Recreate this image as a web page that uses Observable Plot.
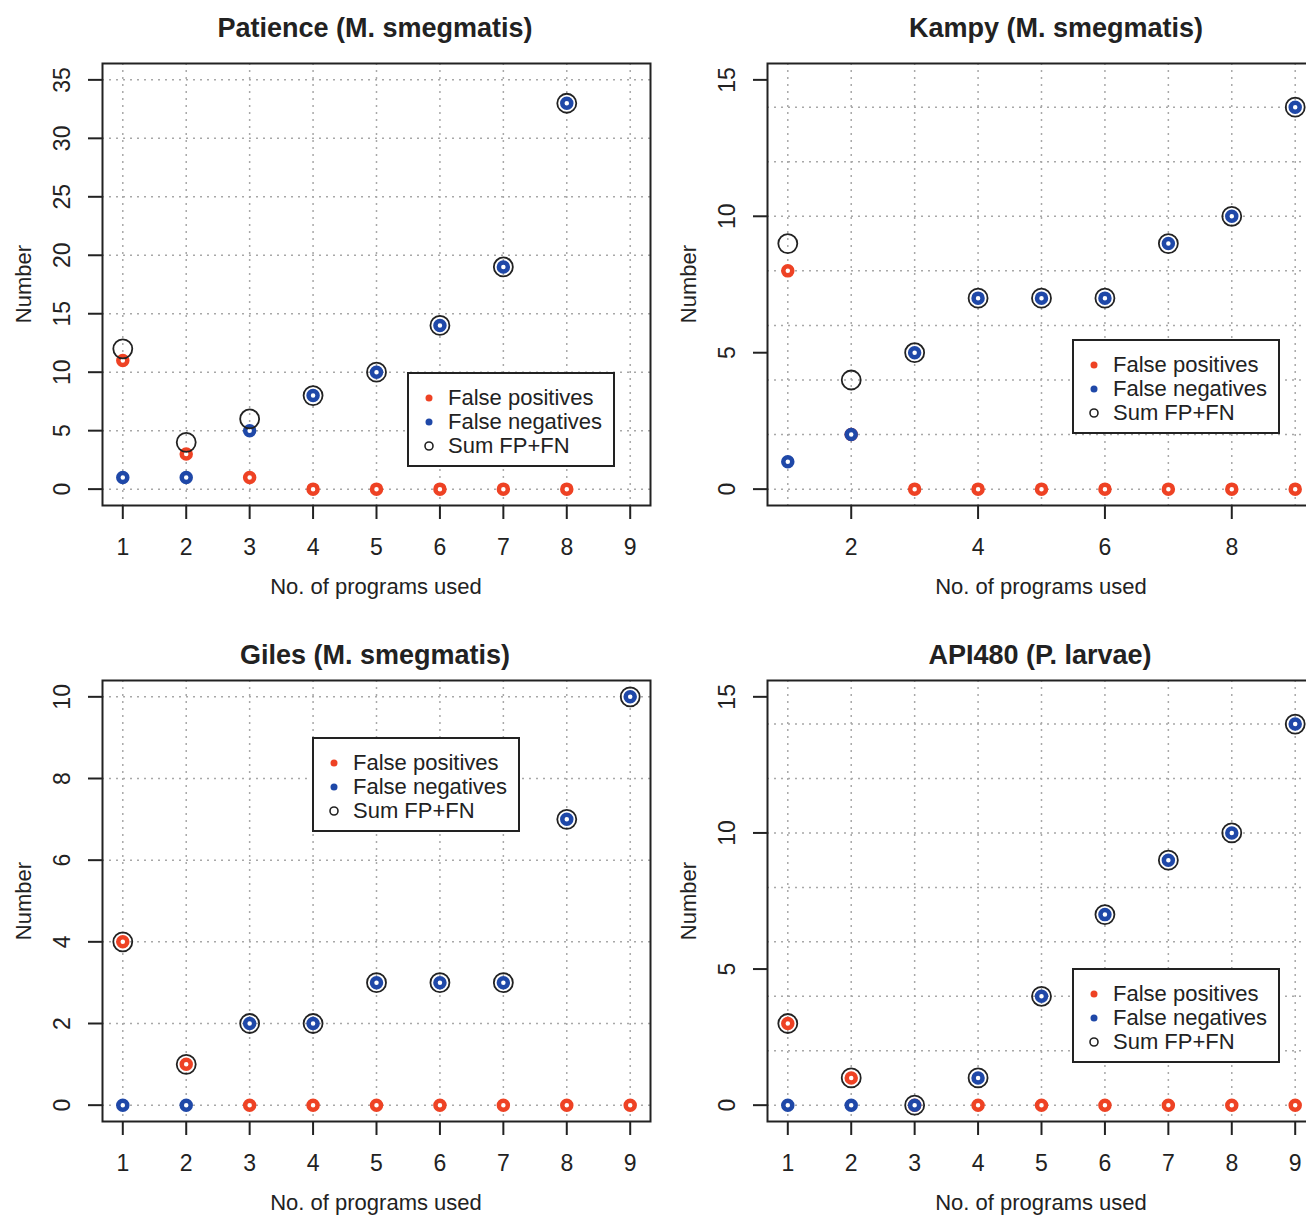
<!DOCTYPE html>
<html><head><meta charset="utf-8">
<script src="https://cdn.jsdelivr.net/npm/d3@7"></script>
<script src="https://cdn.jsdelivr.net/npm/@observablehq/plot@0.6"></script>
<style>
html,body{margin:0;padding:0;background:#fff;}
#wrap{position:relative;width:1306px;height:1218px;overflow:hidden;font-family:"Liberation Sans",Arial,sans-serif;color:#222;}
.panel{position:absolute;}
.panel svg{max-width:none !important;}
.title{position:absolute;font-weight:bold;font-size:27px;white-space:nowrap;transform:translate(-50%,-50%);}
.xlab{position:absolute;font-size:22px;white-space:nowrap;transform:translate(-50%,-50%);}
.ylab{position:absolute;font-size:22px;white-space:nowrap;transform:translate(-50%,-50%) rotate(-90deg);}
.legend{position:absolute;border:2px solid #222;background:#fff;box-sizing:border-box;width:208px;height:95px;}
.lrow{position:absolute;left:0;height:24px;line-height:24px;font-size:22px;white-space:nowrap;}
.lrow .txt{position:absolute;left:39px;top:0;}
.lrow svg{position:absolute;left:12px;top:4px;}
</style>
</head><body>
<div id="wrap"></div>
<script>
// ---- data ----
const programs = [1, 2, 3, 4, 5, 6, 7, 8, 9];
const titles = ["Patience (M. smegmatis)", "Kampy (M. smegmatis)", "Giles (M. smegmatis)", "API480 (P. larvae)"];
const seriesNames = ["False positives", "False negatives", "Sum FP+FN"];
const xLabel = "No. of programs used";
const yLabel = "Number";

const patienceFP  = [11, 3, 1, 0, 0, 0, 0, 0];
const patienceFN  = [1, 1, 5, 8, 10, 14, 19, 33];
const patienceSum = [12, 4, 6, 8, 10, 14, 19, 33];

const kampyFP  = [8, 2, 0, 0, 0, 0, 0, 0, 0];
const kampyFN  = [1, 2, 5, 7, 7, 7, 9, 10, 14];
const kampySum = [9, 4, 5, 7, 7, 7, 9, 10, 14];

const gilesFP  = [4, 1, 0, 0, 0, 0, 0, 0, 0];
const gilesFN  = [0, 0, 2, 2, 3, 3, 3, 7, 10];
const gilesSum = [4, 1, 2, 2, 3, 3, 3, 7, 10];

const apiFP  = [3, 1, 0, 0, 0, 0, 0, 0, 0];
const apiFN  = [0, 0, 0, 1, 4, 7, 9, 10, 14];
const apiSum = [3, 1, 0, 1, 4, 7, 9, 10, 14];

const xTicksAll  = [1, 2, 3, 4, 5, 6, 7, 8, 9];
const xTicksEven = [2, 4, 6, 8];
const patienceYTicks = [0, 5, 10, 15, 20, 25, 30, 35];
const patienceYGrid  = [0, 5, 10, 15, 20, 25, 30, 35];
const kampyYTicks = [0, 5, 10, 15];
const kampyYGrid  = [0, 2, 4, 6, 8, 10, 12, 14];
const gilesYTicks = [0, 2, 4, 6, 8, 10];
const gilesYGrid  = [0, 2, 4, 6, 8, 10];
const apiYTicks = [0, 5, 10, 15];
const apiYGrid  = [0, 2, 4, 6, 8, 10, 12, 14];
const yLimits = [35, 15, 10, 15];

// ---- styling ----
const RED = "#ee4224", BLUE = "#1f48a8", DARK = "#222";

const panels = [
  {fp: patienceFP, fn: patienceFN, sum: patienceSum, yTicks: patienceYTicks, yGrid: patienceYGrid, xTicks: xTicksAll,
   left: 0, top: 0, w: 653, h: 609, ml: 102, mr: 3, mt: 63, mb: 104, tx: 375, ty: 28, leg: [407, 372]},
  {fp: kampyFP, fn: kampyFN, sum: kampySum, yTicks: kampyYTicks, yGrid: kampyYGrid, xTicks: xTicksEven,
   left: 653, top: 0, w: 665, h: 609, ml: 114, mr: 3, mt: 63, mb: 104, tx: 1056, ty: 28, leg: [1072, 339]},
  {fp: gilesFP, fn: gilesFN, sum: gilesSum, yTicks: gilesYTicks, yGrid: gilesYGrid, xTicks: xTicksAll,
   left: 0, top: 609, w: 653, h: 609, ml: 102, mr: 3, mt: 71, mb: 97, tx: 375, ty: 655, leg: [312, 737]},
  {fp: apiFP, fn: apiFN, sum: apiSum, yTicks: apiYTicks, yGrid: apiYGrid, xTicks: xTicksAll,
   left: 653, top: 609, w: 665, h: 609, ml: 114, mr: 3, mt: 71, mb: 97, tx: 1040, ty: 655, leg: [1072, 968]}
];

const wrap = document.getElementById("wrap");
const gridStyle = {stroke: "#a8a8a8", strokeOpacity: 1, strokeWidth: 1.5, strokeDasharray: "2,5"};

panels.forEach((p, i) => {
  const rows = (arr) => arr.map((v, k) => ({x: programs[k], v}));
  const yMax = yLimits[i];
  const chart = Plot.plot({
    width: p.w, height: p.h,
    marginLeft: p.ml, marginRight: p.mr, marginTop: p.mt, marginBottom: p.mb,
    style: {fontFamily: "Liberation Sans, Arial, sans-serif", fontSize: "23px", color: DARK, background: "transparent", maxWidth: "none"},
    x: {domain: [1 - 0.32, 9 + 0.32]},
    y: {domain: [-0.04 * yMax, 1.04 * yMax]},
    marks: [
      Plot.gridX(programs, gridStyle),
      Plot.gridY(p.yGrid, gridStyle),
      Plot.axisX(p.xTicks, {tickSize: 14, tickPadding: 19, strokeWidth: 2, stroke: DARK, fontSize: 23, label: null}),
      Plot.axisY(p.yTicks, {tickSize: 14, tickPadding: 19, tickRotate: -90, strokeWidth: 2, stroke: DARK, fontSize: 23, label: null}),
      Plot.frame({stroke: DARK, strokeWidth: 2}),
      Plot.dot(rows(p.fp), {x: "x", y: "v", r: 4.5, stroke: RED, strokeWidth: 4.5, fill: "white"}),
      Plot.dot(rows(p.fn), {x: "x", y: "v", r: 4.5, stroke: BLUE, strokeWidth: 4.5, fill: "white"}),
      Plot.dot(rows(p.sum), {x: "x", y: "v", r: 9.5, stroke: DARK, strokeWidth: 1.8, fill: "none"})
    ]
  });
  chart.style.maxWidth = "none";
  const holder = document.createElement("div");
  holder.className = "panel";
  holder.style.left = p.left + "px";
  holder.style.top = p.top + "px";
  holder.style.width = p.w + "px";
  holder.style.height = p.h + "px";
  holder.appendChild(chart);
  wrap.appendChild(holder);

  const frameL = p.left + p.ml, frameR = p.left + p.w - p.mr;
  const frameT = p.top + p.mt, frameB = p.top + p.h - p.mb;

  const t = document.createElement("div");
  t.className = "title"; t.textContent = titles[i];
  t.style.left = p.tx + "px"; t.style.top = p.ty + "px";
  wrap.appendChild(t);

  const xl = document.createElement("div");
  xl.className = "xlab"; xl.textContent = xLabel;
  xl.style.left = ((frameL + frameR) / 2) + "px"; xl.style.top = (frameB + 82) + "px";
  wrap.appendChild(xl);

  const yl = document.createElement("div");
  yl.className = "ylab"; yl.textContent = yLabel;
  yl.style.left = (frameL - 78) + "px"; yl.style.top = ((frameT + frameB) / 2) + "px";
  wrap.appendChild(yl);

  const lg = document.createElement("div");
  lg.className = "legend";
  lg.style.left = p.leg[0] + "px"; lg.style.top = p.leg[1] + "px";
  seriesNames.forEach((name, k) => {
    const r = document.createElement("div");
    r.className = "lrow";
    r.style.top = (12 + k * 24) + "px";
    const sym = k === 0 ? `<circle cx="8" cy="8" r="3.5" fill="${RED}"/>`
              : k === 1 ? `<circle cx="8" cy="8" r="3.5" fill="${BLUE}"/>`
              : `<circle cx="8" cy="8" r="4" fill="none" stroke="${DARK}" stroke-width="1.6"/>`;
    r.innerHTML = `<svg width="16" height="16">${sym}</svg><span class="txt">${name}</span>`;
    lg.appendChild(r);
  });
  wrap.appendChild(lg);
});
</script>
</body></html>
